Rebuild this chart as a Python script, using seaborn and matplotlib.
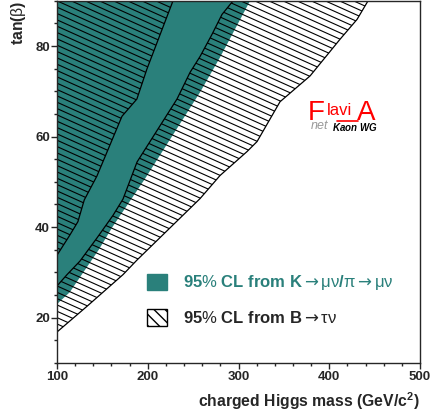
import numpy as np
import matplotlib
matplotlib.use("Agg")
import matplotlib.pyplot as plt
import seaborn as sns
from matplotlib.collections import LineCollection
from matplotlib.patches import Patch
from matplotlib.ticker import MultipleLocator

# boundaries (x = charged Higgs mass, y = tan(beta))
# left hatched region: everything left of this line
btau_left_x = [227.8, 199, 188, 171.6, 144, 130, 123, 114, 100]
btau_left_y = [90, 74.9, 68.3, 64.5, 51.3, 46, 41.2, 38.2, 33.8]

# second hatched band: between inner and outer line
btau_inner_x = [294, 281.8, 270.8, 257.6, 246.6, 232.2, 188.2, 172.7, 161.7, 144, 125.3, 111, 100]
btau_inner_y = [90, 87, 82.6, 77.7, 74.2, 68.3, 54.4, 46.2, 42.6, 37.6, 32.5, 29.5, 27]
btau_outer_x = [442.7, 430.6, 411.8, 378.8, 345.7, 320.4, 309.4, 279.6, 257.6, 188, 172.7, 133, 101, 100]
btau_outer_y = [90, 85.9, 81.5, 73.4, 67.7, 58.9, 56.7, 51.4, 46.3, 32.7, 29.5, 22.5, 17, 16.8]

# K->munu / pi->munu excluded region: left of this edge
kmu_x = [312.7, 279.6, 257.6, 197, 161, 146, 131, 114, 100]
kmu_y = [90, 77.5, 69.8, 50.7, 40, 35, 30.6, 25.6, 23]

xlim = (100, 500)
ylim = (10, 90)
xticks = [100, 200, 300, 400, 500]
yticks = [20, 40, 60, 80]

teal = "#2a807b"

sns.set_style("ticks")
plt.rcParams["font.family"] = ["Liberation Sans", "DejaVu Sans"]
plt.rcParams["mathtext.fontset"] = "custom"
plt.rcParams["mathtext.rm"] = "Liberation Sans"
plt.rcParams["mathtext.it"] = "Liberation Sans:italic"
plt.rcParams["mathtext.bf"] = "Liberation Sans:bold"
plt.rcParams["mathtext.bfit"] = "Liberation Sans:italic:bold"
plt.rcParams["mathtext.sf"] = "DejaVu Sans"

fig = plt.figure(figsize=(4.32, 4.20), dpi=100)
ax = fig.add_axes([0.132, 0.136, 0.8403, 0.862])


def add_hatch(ax, patch, spacing=0.0175, slope=0.45):
    offs = np.arange(-0.05, 1.6, spacing)
    segs = [[(0, c), (1, c - slope)] for c in offs]
    lc = LineCollection(segs, colors="black", linewidths=0.8,
                        transform=ax.transAxes, zorder=2)
    ax.add_collection(lc, autolim=False)
    lc.set_clip_path(patch)


# teal region
ax.fill([xlim[0]] + kmu_x + [xlim[0]], [ylim[1]] + kmu_y + [kmu_y[-1]],
        facecolor=teal, edgecolor="none", zorder=1)

# hatched regions (B -> tau nu)
reg1 = ax.fill([xlim[0]] + btau_left_x + [xlim[0]],
               [ylim[1]] + btau_left_y + [btau_left_y[-1]],
               facecolor="none", edgecolor="none")[0]
add_hatch(ax, reg1)
reg2 = ax.fill(btau_inner_x + btau_outer_x[::-1],
               btau_inner_y + btau_outer_y[::-1],
               facecolor="none", edgecolor="none")[0]
add_hatch(ax, reg2)

for bx, by in [(btau_left_x, btau_left_y), (btau_inner_x, btau_inner_y),
               (btau_outer_x, btau_outer_y)]:
    sns.lineplot(x=bx, y=by, sort=False, estimator=None, color="black",
                 lw=0.9, ax=ax, zorder=3)

ax.set_xlim(*xlim)
ax.set_ylim(*ylim)
ax.set_xticks(xticks)
ax.set_yticks(yticks)
ax.xaxis.set_minor_locator(MultipleLocator(20))
ax.yaxis.set_minor_locator(MultipleLocator(5))
ax.tick_params(which="major", direction="out", length=4, width=1,
               labelsize=9.5, pad=2)
ax.tick_params(which="minor", direction="out", length=2, width=1)
ax.tick_params(axis="y", which="major", pad=1)
for lab in ax.get_xticklabels() + ax.get_yticklabels():
    lab.set_fontweight("bold")
for sp in ax.spines.values():
    sp.set_visible(True)
    sp.set_linewidth(1.0)
    sp.set_zorder(5)

ax.set_xlabel(r"charged Higgs mass (GeV/c$^\mathbf{2}$)", fontsize=11.3,
              fontweight="bold", loc="right", labelpad=5)
ax.set_ylabel(r"tan($\mathrm{\beta}$)", fontsize=11.3, fontweight="bold",
              loc="top", labelpad=5)

arrow = r"$\mathsf{\rightarrow}$"
handles = [Patch(facecolor=teal, edgecolor=teal),
           Patch(facecolor="white", edgecolor="black", hatch="\\\\\\", lw=1)]
labels = [r"95$\mathrm{\%}$ CL from K" + arrow + r"$\mathrm{\mu\nu}$/$\mathrm{\pi}$"
          + arrow + r"$\mathrm{\mu\nu}$",
          r"95$\mathrm{\%}$ CL from B" + arrow + r"$\mathrm{\tau\nu}$"]
leg = ax.legend(handles, labels, loc="upper left", bbox_to_anchor=(0.248, 0.247),
                frameon=False, borderpad=0, borderaxespad=0,
                handlelength=1.2, handleheight=1.15, handletextpad=0.95,
                labelspacing=1.0, prop={"size": 12, "weight": "bold"})
leg.get_texts()[0].set_color(teal)
leg.set_zorder(6)

# FlaviA net logo
ax.text(0.689, 0.672, r"$\mathrm{F}$", transform=ax.transAxes, color="red", fontsize=20)
ax.text(0.742, 0.686, "lavi", transform=ax.transAxes, color="red", fontsize=12)
ax.plot([0.77, 0.83], [0.668, 0.668], transform=ax.transAxes, color="red", lw=1.2)
ax.text(0.824, 0.672, r"$\mathrm{A}$", transform=ax.transAxes, color="red", fontsize=20)
ax.text(0.697, 0.647, r"$\mathit{net}$", transform=ax.transAxes, color="#999999",
        fontsize=9)
ax.text(0.757, 0.641, r"$\mathbfit{Kaon\ WG}$", transform=ax.transAxes,
        color="black", fontsize=7)

fig.savefig("out.png", dpi=100)
